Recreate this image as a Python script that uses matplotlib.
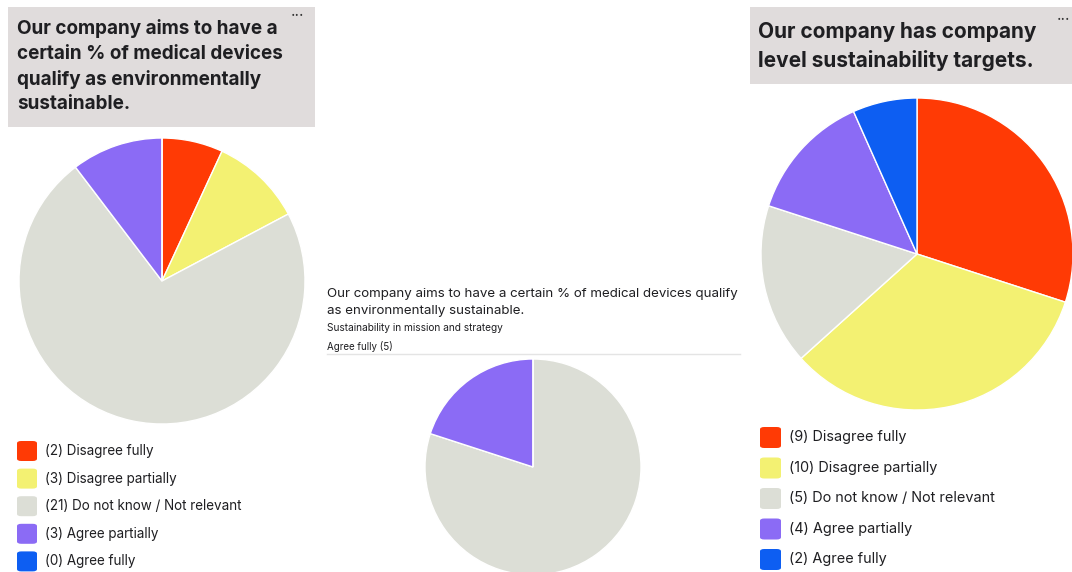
import matplotlib
matplotlib.use("Agg")
import matplotlib.pyplot as plt
from matplotlib.patches import FancyBboxPatch, Rectangle
from matplotlib.lines import Line2D

# Response categories and colours shared by all three charts
categories = ["Disagree fully", "Disagree partially", "Do not know / Not relevant",
              "Agree partially", "Agree fully"]
colors = ["#FF3A05", "#F3F172", "#DCDED6", "#8B6BF5", "#0D5EF2"]

# Counts per category
devices_counts = [2, 3, 21, 3, 0]
targets_counts = [9, 10, 5, 4, 2]
mission_counts = [0, 0, 4, 1, 0]

devices_title = "Our company aims to have a\ncertain % of medical devices\nqualify as environmentally\nsustainable."
targets_title = "Our company has company\nlevel sustainability targets."
mission_title = "Our company aims to have a certain % of medical devices qualify\nas environmentally sustainable."
mission_subtitle = "Sustainability in mission and strategy"
mission_filter = "Agree fully (5)"

W, H = 1072, 572
fig = plt.figure(figsize=(W / 100, H / 100), dpi=100)
fig.patch.set_facecolor("white")
FONT = "Inter"
TXT = "#1f1f22"


def fx(x):
    return x / W


def fy(y):
    return 1 - y / H


def pie_at(cx, cy, r, values):
    ax = fig.add_axes([fx(cx - r), fy(cy + r), 2 * r / W, 2 * r / H])
    ax.pie(values, colors=colors, startangle=90, counterclock=False,
           wedgeprops=dict(edgecolor="white", linewidth=1.0))
    ax.set_xlim(-1, 1)
    ax.set_ylim(-1, 1)
    ax.set_aspect("equal")
    ax.axis("off")
    return ax


def title_box(x0, y0, x1, y1):
    fig.patches.append(Rectangle((fx(x0), fy(y1)), fx(x1 - x0), (y1 - y0) / H,
                                 transform=fig.transFigure, facecolor="#E0DCDC",
                                 edgecolor="none", zorder=0))


def legend(x, y0, step, size, counts, fs):
    for i, (cat, n) in enumerate(zip(categories, counts)):
        yc = y0 + i * step
        fig.patches.append(FancyBboxPatch((fx(x), fy(yc + size / 2)), size / W, size / H,
                                          boxstyle="round,pad=0,rounding_size=0.004",
                                          transform=fig.transFigure,
                                          facecolor=colors[i], edgecolor="none"))
        fig.text(fx(x + size + 8), fy(yc), f"({n}) {cat}", fontsize=fs, family=FONT,
                 color=TXT, va="center", ha="left")


# Left panel
title_box(8, 7, 315, 127)
fig.text(fx(17), fy(19), devices_title, fontsize=13.6, family=FONT, weight="bold",
         color=TXT, va="top", ha="left", linespacing=1.47)
fig.text(fx(298), fy(16), "···", fontsize=11, family=FONT, color="#333", ha="center", va="center")
pie_at(162, 281, 143, devices_counts)
legend(17, 451, 27.6, 20, devices_counts, 9.7)

# Right panel
title_box(750, 7, 1072, 84)
fig.text(fx(758), fy(22), targets_title, fontsize=15, family=FONT, weight="bold",
         color=TXT, va="top", ha="left", linespacing=1.45)
fig.text(fx(1064), fy(20), "···", fontsize=11, family=FONT, color="#333", ha="center", va="center")
pie_at(917, 254, 156, targets_counts)
legend(760, 437.5, 30.5, 21, targets_counts, 10.4)

# Middle panel
fig.text(fx(327), fy(288), mission_title, fontsize=9.6, family=FONT, color=TXT,
         va="top", ha="left", linespacing=1.55)
fig.text(fx(327), fy(328), mission_subtitle, fontsize=7.3, family=FONT, color=TXT,
         va="center", ha="left")
fig.text(fx(327), fy(346), mission_filter, fontsize=7, family=FONT, color=TXT,
         va="center", ha="left")
fig.lines.append(Line2D([fx(327), fx(740)], [fy(354), fy(354)], transform=fig.transFigure,
                        color="#E4E4E4", linewidth=1))
pie_at(533, 467, 108, mission_counts)

fig.savefig("out.png", dpi=100, facecolor="white")
